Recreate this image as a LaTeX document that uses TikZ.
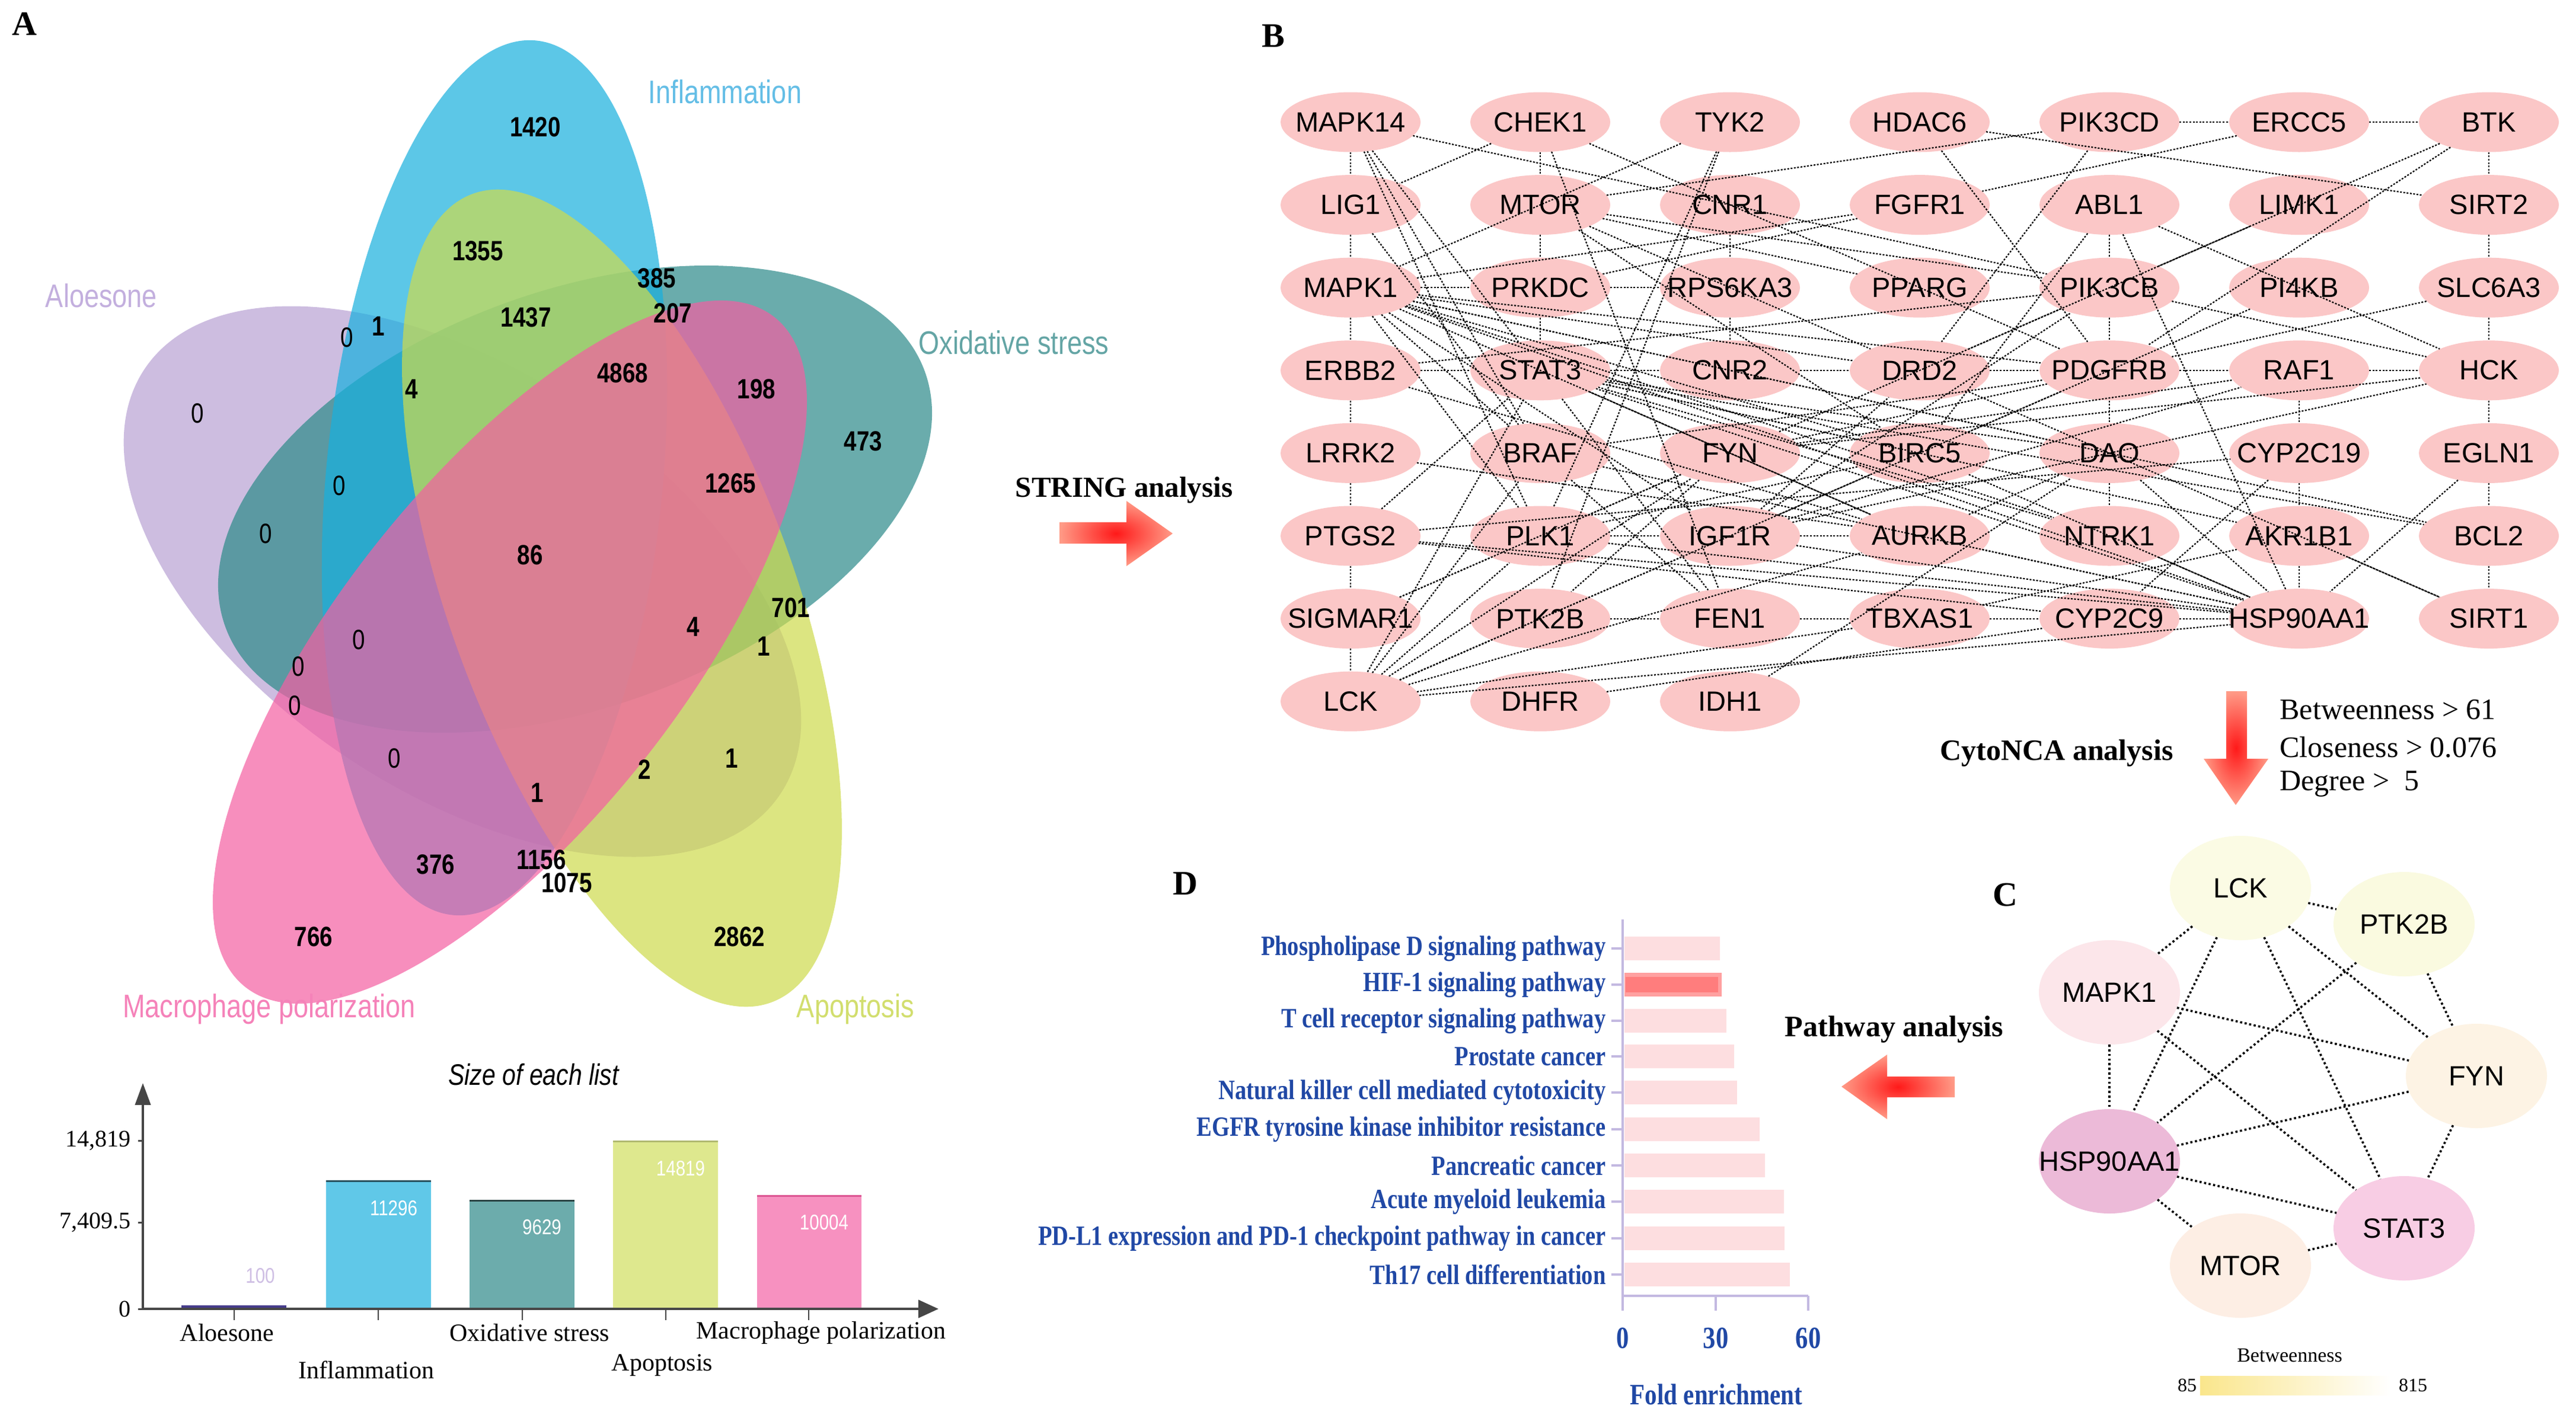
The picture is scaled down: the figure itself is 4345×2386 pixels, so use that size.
\documentclass[tikz,border=0pt]{standalone}
\usepackage{fontspec}
\setmainfont{Liberation Serif}
\setsansfont{Liberation Sans}
\newfontfamily\nsans[FakeStretch=0.82]{Liberation Sans}
\newfontfamily\cserif[FakeStretch=0.82]{Liberation Serif}
\usetikzlibrary{shapes.geometric,arrows.meta}
\newcommand\myfs[1]{\fontsize{#1}{#1}\selectfont}
\newcommand\zbox[1]{\makebox[0pt]{#1}}
\definecolor{vpurple}{RGB}{184,162,212}
\definecolor{vteal}{RGB}{43,138,137}
\definecolor{vblue}{RGB}{24,176,222}
\definecolor{vyellow}{RGB}{206,219,76}
\definecolor{vpink}{RGB}{244,95,162}
\definecolor{lpurple}{RGB}{195,175,222}
\definecolor{lteal}{RGB}{100,165,165}
\definecolor{lblue}{RGB}{100,190,230}
\definecolor{lyellow}{RGB}{210,222,110}
\definecolor{lpink}{RGB}{245,130,185}
\definecolor{bblue}{RGB}{96,200,232}
\definecolor{bteal}{RGB}{108,172,172}
\definecolor{byellow}{RGB}{222,232,142}
\definecolor{bpink}{RGB}{247,145,192}
\definecolor{bnavy}{RGB}{70,60,140}
\definecolor{axgrey}{RGB}{70,70,70}
\definecolor{nodepink}{RGB}{251,199,199}
\definecolor{dblue}{RGB}{32,72,165}
\definecolor{daxis}{RGB}{195,185,225}
\definecolor{dbar}{RGB}{253,222,224}
\definecolor{dhif}{RGB}{255,160,160}
\definecolor{dhifin}{RGB}{255,125,125}
\definecolor{cLCKc}{RGB}{251,251,228}
\definecolor{cPTKc}{RGB}{250,250,224}
\definecolor{cMAPc}{RGB}{252,230,234}
\definecolor{cFYNc}{RGB}{253,243,228}
\definecolor{cHSPc}{RGB}{236,186,216}
\definecolor{cSTAc}{RGB}{248,205,228}
\definecolor{cMTOc}{RGB}{253,238,228}
\definecolor{arrred}{RGB}{255,25,25}
\definecolor{arrout}{RGB}{255,155,135}
\tikzset{
  gnode/.style={ellipse, fill=nodepink, minimum width=236pt, minimum height=101pt, inner sep=0pt, font=\sffamily\myfs{47}},
  cnode/.style={ellipse, minimum width=238pt, minimum height=176pt, inner sep=0pt, font=\sffamily\myfs{47}},
  bedge/.style={dash pattern=on 3pt off 2.6pt, line width=2.2pt, black},
  cedge/.style={dash pattern=on 3.6pt off 4.2pt, line width=3.6pt, black},
  vnum/.style={font=\nsans\bfseries\myfs{47}},
  vzero/.style={font=\nsans\myfs{47}},
  vset/.style={font=\nsans\myfs{55}},
  plabel/.style={font=\bfseries\myfs{58}},
  btxt/.style={font=\bfseries\myfs{50}},
  ctxt/.style={font=\myfs{50}, anchor=west},
  dlab/.style={font=\cserif\bfseries\myfs{47}, text=dblue, anchor=east},
  bcat/.style={font=\myfs{42}},
  bval/.style={font=\nsans\myfs{36}, text=white},
  baxis/.style={line width=4pt, axgrey},
}
\begin{document}
\begin{tikzpicture}[x=1pt,y=-1pt]
\useasboundingbox (0,0) rectangle (4345,2386);
\fill[white] (0,0) rectangle (4345,2386);

% ================= Panel A : Venn =================
\node[plabel] (lblA) at (41,40) {A};
\fill[vpurple, fill opacity=0.7, rotate around={-33.8:(780,981)}] (780,981) ellipse [x radius=645, y radius=355];
\fill[vteal, fill opacity=0.7, rotate around={20.1:(970,842)}] (970,842) ellipse [x radius=628, y radius=351];
\fill[vblue, fill opacity=0.7, rotate around={84.6:(834,806)}] (834,806) ellipse [x radius=741, y radius=284];
\fill[vyellow, fill opacity=0.7, rotate around={-69.7:(1049,1009)}] (1049,1009) ellipse [x radius=727, y radius=290];
\fill[vpink, fill opacity=0.7, rotate around={51.7:(860,1100)}] (860,1100) ellipse [x radius=720, y radius=290];

\foreach \x/\y/\t [count=\i] in {903/214/1420, 806/423/1355, 1108/469/385, 1135/528/207, 887/535/1437, 638/550/1, 694/656/4, 1050/629/4868, 1276/656/198, 1456/744/473, 1232/815/1265, 894/936/86, 1334/1025/701, 1169/1057/4, 1288/1090/1, 1087/1298/2, 1234/1279/1, 906/1337/1, 735/1458/376, 913/1450/1156, 956/1489/1075, 529/1580/766, 1247/1580/2862}
  \node[vnum] (vn\i) at (\x,\y) {\t};
\foreach \x/\y [count=\i] in {585/569, 333/697, 572/819, 448/900, 605/1079, 503/1124, 497/1190, 665/1279}
  \node[vzero] (vz\i) at (\x,\y) {0};

\node[vset, text=lblue] (sInf) at (1223,155) {Inflammation};
\node[vset, text=lpurple] (sAlo) at (171,499) {Aloesone};
\node[vset, text=lteal] (sOxi) at (1710,578) {Oxidative stress};
\node[vset, text=lpink] (sMac) at (454,1702) {Macrophage polarization};
\node[vset, text=lyellow] (sApo) at (1443,1702) {Apoptosis};

% ================= Panel A : bar chart =================
\node[font=\nsans\itshape\myfs{50}] (btitle) at (900,1813) {Size of each list};
\fill[bnavy] (306,2202) rectangle (483,2208);
\fill[bblue] (550,1991) rectangle (727,2208);
\draw[line width=3pt, black!60!bblue] (550,1992) -- (727,1992);
\fill[bteal] (792,2024) rectangle (969,2208);
\draw[line width=3pt, black!60!bteal] (792,2025) -- (969,2025);
\fill[byellow] (1034,1924) rectangle (1211,2208);
\draw[line width=3pt, black!20!byellow] (1034,1925) -- (1211,1925);
\fill[bpink] (1277,2016) rectangle (1453,2208);
\draw[line width=3pt, black!10!vpink] (1277,2017) -- (1453,2017);
\node[font=\nsans\myfs{36}, text=lpurple!80] (bv1) at (439,2152) {100};
\node[bval] (bv2) at (664,2038) {11296};
\node[bval] (bv3) at (914,2070) {9629};
\node[bval] (bv4) at (1148,1971) {14819};
\node[bval] (bv5) at (1390,2062) {10004};

\coordinate (org) at (241,2208);
\coordinate (ytop) at (241,1827);
\coordinate (xend) at (1583,2208);
\draw[baxis, -{Triangle[length=37pt,width=26pt]}] (org) -- (ytop);
\draw[baxis, -{Triangle[length=34pt,width=30pt]}] (org) -- (xend);
\foreach \y/\t [count=\i] in {1924/{14,819}, 2062/{7,409.5}, 2208/0} {
  \draw[line width=3pt, axgrey] (233,\y) -- (241,\y);
  \node[font=\myfs{40}, anchor=east] (yt\i) at (224,\y) {\t};
}
\foreach \x in {395,638,881,1123,1364}
  \draw[line width=2pt, axgrey] (\x,2208) -- (\x,2227);
\node[bcat] (bc1) at (383,2248) {Aloesone};
\node[bcat] (bc2) at (618,2311) {Inflammation};
\node[bcat] (bc3) at (893,2248) {Oxidative stress};
\node[bcat] (bc4) at (1117,2303) {Apoptosis};
\node[bcat] (bc5) at (1385,2248) {Macrophage polarization};

% ================= STRING arrow =================
\node[btxt, font=\bfseries\myfs{49}] (strtxt) at (1896,827) {STRING analysis};
\shade[inner color=arrred, outer color=arrout] (1787,881) -- (1900,881) -- (1900,845) -- (1978,900) -- (1900,955) -- (1900,917) -- (1787,917) -- cycle;

% ================= Panel B : network =================
\node[plabel] (lblB) at (2148,61) {B};
\foreach \n/\c/\r in {MAPK14/1/1, CHEK1/2/1, TYK2/3/1, HDAC6/4/1, PIK3CD/5/1, ERCC5/6/1, BTK/7/1,
  LIG1/1/2, MTOR/2/2, CNR1/3/2, FGFR1/4/2, ABL1/5/2, LIMK1/6/2, SIRT2/7/2,
  MAPK1/1/3, PRKDC/2/3, RPS6KA3/3/3, PPARG/4/3, PIK3CB/5/3, PI4KB/6/3, SLC6A3/7/3,
  ERBB2/1/4, STAT3/2/4, CNR2/3/4, DRD2/4/4, PDGFRB/5/4, RAF1/6/4, HCK/7/4,
  LRRK2/1/5, BRAF/2/5, FYN/3/5, BIRC5/4/5, DAO/5/5, CYP2C19/6/5, EGLN1/7/5,
  PTGS2/1/6, PLK1/2/6, IGF1R/3/6, AURKB/4/6, NTRK1/5/6, AKR1B1/6/6, BCL2/7/6,
  SIGMAR1/1/7, PTK2B/2/7, FEN1/3/7, TBXAS1/4/7, CYP2C9/5/7, HSP90AA1/6/7, SIRT1/7/7,
  LCK/1/8, DHFR/2/8, IDH1/3/8}
  \node[gnode] (\n) at ({2278+320*(\c-1)},{206+139.6*(\r-1)}) {\zbox{\n}};

\foreach \a/\b in {PIK3CD/ERCC5, ERCC5/BTK,
  MAPK14/LIG1, LIG1/MAPK1, MAPK1/ERBB2, ERBB2/LRRK2, LRRK2/PTGS2, PTGS2/SIGMAR1, SIGMAR1/LCK,
  CHEK1/MTOR, MTOR/PRKDC, PRKDC/STAT3, CNR1/RPS6KA3, RPS6KA3/CNR2,
  ABL1/PIK3CB, PIK3CB/PDGFRB, PDGFRB/DAO, DAO/NTRK1,
  RAF1/CYP2C19, CYP2C19/AKR1B1, AKR1B1/HSP90AA1,
  BTK/SIRT2, SIRT2/SLC6A3, SLC6A3/HCK, HCK/EGLN1, EGLN1/BCL2, BCL2/SIRT1,
  MAPK1/PRKDC, PRKDC/RPS6KA3,
  ERBB2/STAT3, STAT3/CNR2, CNR2/DRD2, DRD2/PDGFRB, PDGFRB/RAF1, RAF1/HCK,
  PLK1/IGF1R, IGF1R/AURKB,
  PTK2B/FEN1, FEN1/TBXAS1, TBXAS1/CYP2C9, CYP2C9/HSP90AA1,
  LCK/HSP90AA1, DHFR/CYP2C9, IDH1/DAO,
  MAPK14/PIK3CB, MAPK14/STAT3, MAPK14/BRAF, MAPK14/PLK1,
  CHEK1/LIG1, CHEK1/PDGFRB, CHEK1/FEN1,
  TYK2/MAPK1, TYK2/PTK2B, TYK2/PLK1,
  HDAC6/SIRT2, HDAC6/PDGFRB,
  MTOR/PIK3CD, ERCC5/FGFR1, PIK3CD/DRD2,
  BTK/PIK3CB, BTK/PDGFRB,
  ABL1/HSP90AA1, ABL1/HCK, ABL1/BIRC5, LIMK1/DRD2, PIK3CB/HCK, SLC6A3/PDGFRB, PI4KB/BIRC5,
  MTOR/PIK3CB, MTOR/PPARG, MTOR/DRD2, MTOR/BIRC5,
  LIG1/BRAF, MAPK1/FGFR1, MAPK1/PDGFRB, MAPK1/DRD2, MAPK1/BIRC5, MAPK1/DAO, MAPK1/NTRK1,
  MAPK1/HSP90AA1, MAPK1/AURKB, MAPK1/IGF1R, MAPK1/BRAF, MAPK1/PLK1, MAPK1/BCL2,
  PRKDC/FGFR1, ERBB2/PIK3CB, ERBB2/AURKB,
  STAT3/HSP90AA1, STAT3/NTRK1, STAT3/DAO, STAT3/BIRC5, STAT3/AKR1B1, STAT3/BCL2,
  STAT3/AURKB, STAT3/LCK, STAT3/FEN1,
  LRRK2/AURKB, PTGS2/STAT3, PTGS2/CYP2C19, PTGS2/HSP90AA1, PTGS2/CYP2C9,
  SIGMAR1/PLK1, SIGMAR1/FYN,
  LCK/BRAF, LCK/PLK1, LCK/FYN, LCK/IGF1R, LCK/BIRC5, LCK/AURKB, LCK/PTK2B, LCK/TBXAS1,
  BRAF/PDGFRB, BRAF/HSP90AA1, BRAF/FEN1,
  FYN/PDGFRB, FYN/HCK, FYN/RAF1, FYN/PIK3CB, FYN/PTK2B, FYN/PLK1,
  IGF1R/DRD2, IGF1R/PDGFRB, IGF1R/HCK, IGF1R/RAF1, IGF1R/PIK3CB,
  BIRC5/PLK1, BIRC5/HSP90AA1, AURKB/HSP90AA1, AURKB/DAO,
  NTRK1/HSP90AA1, IGF1R/HSP90AA1, PLK1/HSP90AA1, DAO/HSP90AA1,
  CYP2C19/CYP2C9, EGLN1/HSP90AA1, TBXAS1/AKR1B1, AKR1B1/SIRT1, DRD2/SIRT1}
  \draw[bedge] (\a) -- (\b);

% ================= CytoNCA =================
\node[btxt] (cytotxt) at (3469,1271) {CytoNCA analysis};
\shade[inner color=arrred, outer color=arrout] (3755,1166) -- (3790,1166) -- (3790,1280) -- (3826,1280) -- (3771,1358) -- (3717,1280) -- (3755,1280) -- cycle;
\node[ctxt] (crit1) at (3842,1197) {Betweenness > 61};
\node[ctxt] (crit2) at (3842,1260) {Closeness > 0.076};
\node[ctxt] (crit3) at (3842,1323) {Degree >\ \ 5};

% ================= Panel C =================
\node[plabel] (lblC) at (3382,1510) {C};
\node[cnode, fill=cLCKc] (cLCK) at (3779,1498) {\zbox{LCK}};
\node[cnode, fill=cPTKc] (cPTK) at (4055,1559) {\zbox{PTK2B}};
\node[cnode, fill=cMAPc] (cMAP) at (3558,1674) {\zbox{MAPK1}};
\node[cnode, fill=cFYNc] (cFYN) at (4177,1815) {\zbox{FYN}};
\node[cnode, fill=cHSPc] (cHSP) at (3558,1959) {\zbox{HSP90AA1}};
\node[cnode, fill=cSTAc] (cSTA) at (4055,2072) {\zbox{STAT3}};
\node[cnode, fill=cMTOc] (cMTO) at (3779,2135) {\zbox{MTOR}};
\foreach \a/\b in {cLCK/cPTK, cLCK/cMAP, cLCK/cHSP, cLCK/cSTA, cLCK/cFYN, cPTK/cFYN, cPTK/cHSP,
  cMAP/cFYN, cMAP/cHSP, cMAP/cSTA, cHSP/cFYN, cHSP/cSTA, cHSP/cMTO, cMTO/cSTA, cFYN/cSTA}
  \draw[cedge] (\a) -- (\b);
\node[font=\myfs{34}] (betw) at (3862,2287) {Betweenness};
\shade[left color={rgb,255:red,250;green,230;blue,140}, middle color={rgb,255:red,250;green,196;blue,204}, right color=white] (3711,2321) rectangle (4033,2353);
\node[font=\myfs{32}] (b85) at (3689,2337) {85};
\node[font=\myfs{32}] (b815) at (4070,2337) {815};

% ================= Pathway arrow =================
\node[btxt] (pathtxt) at (3195,1737) {Pathway analysis};
\shade[inner color=arrred, outer color=arrout] (3297,1816) -- (3183,1816) -- (3183,1779) -- (3106,1833) -- (3183,1888) -- (3183,1851) -- (3297,1851) -- cycle;

% ================= Panel D =================
\node[plabel] (lblD) at (1999,1491) {D};
\foreach \y/\e/\t [count=\i] in {1600/2901/Phospholipase D signaling pathway,
  1661/2904/HIF-1 signaling pathway,
  1722/2912/T cell receptor signaling pathway,
  1782/2925/Prostate cancer,
  1843/2930/Natural killer cell mediated cytotoxicity,
  1905/2968/EGFR tyrosine kinase inhibitor resistance,
  1966/2977/Pancreatic cancer,
  2027/3009/Acute myeloid leukemia,
  2089/3010/PD-L1 expression and PD-1 checkpoint pathway in cancer,
  2150/3019/Th17 cell differentiation} {
  \fill[dbar] (2740,\y-20) rectangle (\e,\y+20);
  \draw[line width=4pt, daxis] (2718,\y) -- (2737,\y);
  \node[dlab] (dl\i) at (2712,\y) {\t};
}
\fill[dhif] (2740,1641) rectangle (2904,1681);
\fill[dhifin] (2742,1648) rectangle (2898,1674);
\coordinate (dorg) at (2737,2186);
\coordinate (dtop) at (2737,1551);
\coordinate (dxend) at (3050,2186);
\draw[line width=4.5pt, daxis] (dtop) -- (2737,2211);
\draw[line width=4.5pt, daxis] (dorg) -- (dxend);
\foreach \x/\t [count=\i] in {2737/0, 2894/30, 3050/60} {
  \draw[line width=4pt, daxis] (\x,2186) -- (\x,2211);
  \node[font=\cserif\bfseries\myfs{52}, text=dblue] (dx\i) at (\x,2257) {\t};
}
\node[font=\cserif\bfseries\myfs{50}, text=dblue] (dxl) at (2895,2352) {Fold enrichment};
\end{tikzpicture}
\end{document}
